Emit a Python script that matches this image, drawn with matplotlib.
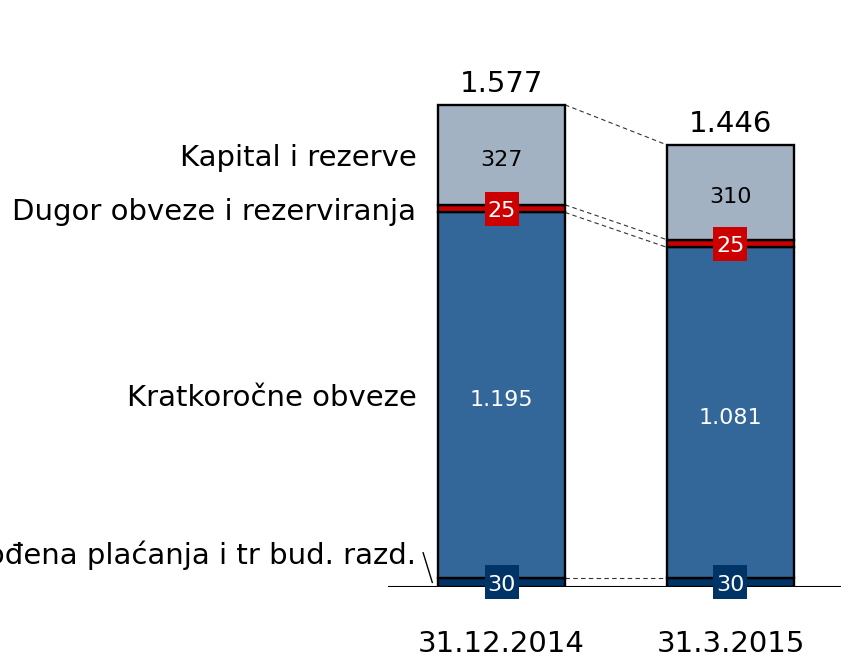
import matplotlib.pyplot as plt
import numpy as np

categories = ['31.12.2014', '31.3.2015']
odgodena = [30, 30]
kratkorocne = [1195, 1081]
dugor = [25, 25]
kapital = [327, 310]

series_names = ['Odgođena plaćanja i tr bud. razd.', 'Kratkoročne obveze',
                'Dugor obveze i rezerviranja', 'Kapital i rezerve']
series_colors = ['#003366', '#336699', '#CC0000', '#A2B2C2']


def fmt(v):
    return f'{v:,}'.replace(',', '.')


def main():
    series = [odgodena, kratkorocne, dugor, kapital]
    x = np.arange(len(categories))
    width = 0.555

    fig = plt.figure(figsize=(8.41, 6.58), dpi=100)
    ax = fig.add_axes([388 / 841, 71 / 658, 453 / 841, 587 / 658])
    ax.set_xlim(-0.496, 1.483)
    ax.set_ylim(0, 1920)

    bottoms = np.zeros(len(categories))
    tops = []
    for vals, col in zip(series, series_colors):
        vals = np.array(vals, dtype=float)
        ax.bar(x, vals, width, bottom=bottoms, color=col, edgecolor='black',
               linewidth=1.7, zorder=2)
        tops.append(bottoms + vals)
        bottoms = bottoms + vals

    # dashed connectors between the bars
    for level in tops:
        ax.plot([x[0] + width / 2, x[1] - width / 2], [level[0], level[1]],
                ls=(0, (4, 3)), color='#333333', lw=0.8, zorder=1)

    # segment values
    for i in range(len(categories)):
        b = 0
        for k, vals in enumerate(series):
            mid = b + vals[i] / 2
            if k in (0, 2):
                # small coloured square behind the thin segments' value
                ax.plot(x[i], mid, marker='s', ms=25 if k == 0 else 24, mew=0,
                        color=series_colors[k], zorder=4, clip_on=False)
                ax.annotate(fmt(vals[i]), (x[i], mid), xytext=(0, -6),
                            textcoords='offset points', ha='center', va='baseline',
                            color='white', fontsize=16, zorder=5, annotation_clip=False)
            else:
                ax.annotate(fmt(vals[i]), (x[i], mid), xytext=(0, -8),
                            textcoords='offset points', ha='center', va='baseline',
                            color='white' if k == 1 else 'black', fontsize=16, zorder=5)
            b += vals[i]
        ax.annotate(fmt(int(tops[-1][i])), (x[i], tops[-1][i]), xytext=(0, 9.5),
                    textcoords='offset points', ha='center', va='baseline', fontsize=21)
        ax.annotate(categories[i], (x[i], 0), xytext=(0, -47),
                    textcoords='offset points', ha='center', va='baseline', fontsize=21,
                    annotation_clip=False)

    # series names on the left of the first bar
    left = x[0] - width / 2 - 0.095
    b = 0
    for k, vals in enumerate(series):
        mid = b + vals[0] / 2
        if k == 0:
            ax.annotate(series_names[k], (left, 110), xytext=(0, -8),
                        textcoords='offset points', ha='right', va='baseline',
                        fontsize=21, annotation_clip=False)
            ax.plot([left + 0.03, left + 0.07], [112, 15], color='black', lw=1,
                    clip_on=False)
        else:
            ax.annotate(series_names[k], (left, mid), xytext=(0, -8),
                        textcoords='offset points', ha='right', va='baseline',
                        fontsize=21, annotation_clip=False)
        b += vals[0]

    ax.axhline(0, color='black', lw=1.5, zorder=3)
    ax.set_xticks([])
    ax.set_yticks([])
    for s in ax.spines.values():
        s.set_visible(False)

    fig.savefig('out.png', dpi=100)


if __name__ in '__main__':
    main()
